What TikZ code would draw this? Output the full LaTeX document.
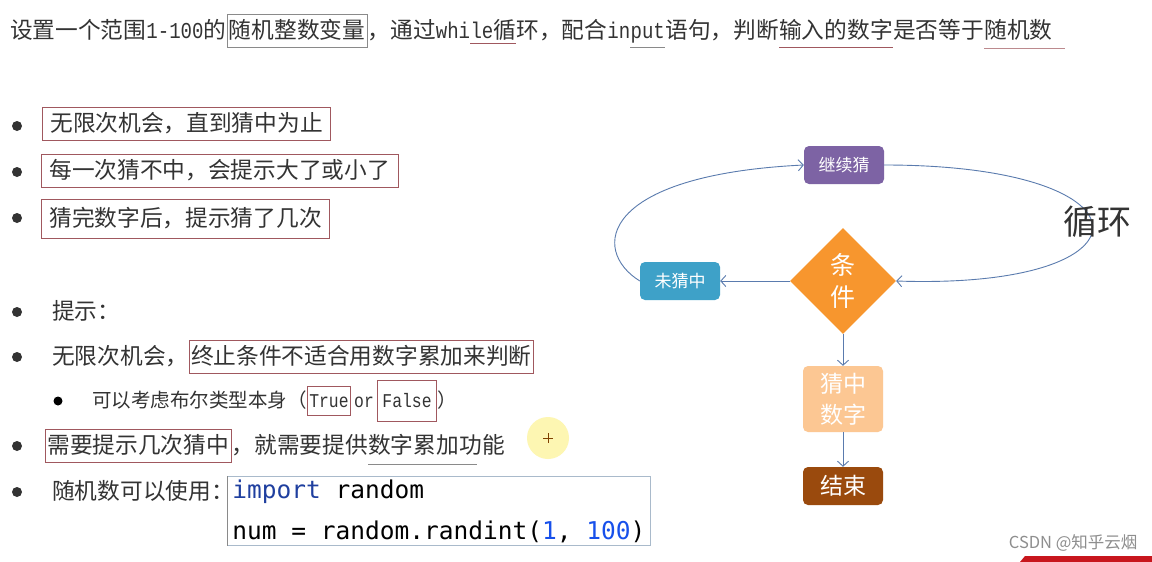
\documentclass[tikz,border=0pt]{standalone}
\usepackage{fontspec}
\setmainfont{Noto Sans CJK SC}
\newfontfamily\lmono[FakeStretch=0.84]{Liberation Mono}
\newfontfamily\codefont{DejaVu Sans Mono}
\usepackage{xcolor}
\usetikzlibrary{shapes.geometric,arrows.meta,positioning,calc}

\definecolor{inkgray}{HTML}{333333}
\definecolor{markred}{HTML}{A0585E}
\definecolor{markgray}{HTML}{8A8A8A}
\definecolor{codeblue}{HTML}{1F3F9F}
\definecolor{numblue}{HTML}{1750EB}
\definecolor{codeframe}{HTML}{A9BACB}
\definecolor{flowline}{HTML}{5A7BAE}
\definecolor{jixucol}{HTML}{7D63A4}
\definecolor{tiaocol}{HTML}{F7962E}
\definecolor{weicol}{HTML}{3EA1C8}
\definecolor{caicol}{HTML}{FCC793}
\definecolor{jieshucol}{HTML}{9A4A0D}
\definecolor{wmgray}{HTML}{8E8E8E}
\definecolor{barred}{HTML}{C8161D}
\definecolor{hilite}{HTML}{FDF6B2}

\tikzset{
  ln/.style={inner sep=0pt, text height=19pt, text depth=4pt, text=inkgray, font=\fontsize{22.7}{22.7}\selectfont},
  lnsmall/.style={ln, text height=16pt, text depth=3.5pt, font=\fontsize{19.5}{19.5}\selectfont},
  markbox/.style={draw=markred, line width=0.8pt, inner xsep=2pt, inner ysep=5pt},
  bulletdot/.style={circle, fill=inkgray, inner sep=0pt, minimum size=10pt},
  flowbox/.style={rectangle, rounded corners=5pt, minimum width=80pt, minimum height=38pt, text=white, font=\fontsize{17}{17}\selectfont, inner sep=0pt},
  flow/.style={draw=flowline, line width=0.9pt, -{Straight Barb[length=5pt,width=11pt]}},
}

\begin{document}
\begin{tikzpicture}[x=1pt,y=-1pt]
    % Page
    \fill[white] (0,0) rectangle (1152,562);
    \useasboundingbox (0,0) rectangle (1152,562);

    % Title line
    \node[ln, anchor=west] (t1) at (10,31) {设置一个范围{\lmono 1-100}的};
    \node[ln, markbox, draw=markgray, right=0pt of t1] (t2) {随机整数变量};
    \node[ln, right=0pt of t2] (t3) {，通过{\lmono whi}};
    \node[ln, right=0pt of t3] (t4) {{\lmono le}循};
    \node[ln, right=0pt of t4] (t5) {环，配合{\lmono in}};
    \node[ln, right=0pt of t5] (t6) {\lmono put};
    \node[ln, right=0pt of t6] (t7) {语句，判断};
    \node[ln, right=0pt of t7] (t8) {输入的数字};
    \node[ln, right=0pt of t8] (t9) {是否等于};
    \node[ln, right=0pt of t9] (t10) {随机数};
    \draw[markred] (t4.south west) -- (t4.south east);
    \draw[markgray, line width=1pt] ([yshift=-5pt]t6.south west) -- ([yshift=-5pt]t6.south east);
    \draw[markred, line width=1pt] ([yshift=-5pt]t8.south west) -- ([yshift=-5pt]t8.south east);
    \draw[markred!70] ([yshift=-5pt]t10.south west) -- ([yshift=-5pt,xshift=12pt]t10.south east);

    % Bullets
    \foreach \y [count=\i] in {126,172,218,312,357,446,492}
        \node[bulletdot] (b\i) at (17,\y) {};
    \node[bulletdot, fill=black, minimum size=9pt] (b8) at (58,401) {};

    % Items
    \node[ln, markbox, inner xsep=8pt, anchor=west] (r1) at (42,124) {无限次机会，直到猜中为止};
    \node[ln, markbox, inner xsep=8pt, anchor=west] (r2) at (41,171) {每一次猜不中，会提示大了或小了};
    \node[ln, markbox, inner xsep=8pt, inner ysep=8pt, anchor=west] (r3) at (41,219) {猜完数字后，提示猜了几次};
    \node[ln, anchor=west] (r4) at (52,312) {提示：};
    \node[ln, anchor=west] (r5a) at (52,357) {无限次机会，};
    \node[ln, markbox, right=0pt of r5a] (r5b) {终止条件不适合用数字累加来判断};

    % Sub item
    \node[lnsmall, anchor=west] (s1) at (92,401) {可以考虑布尔类型本身（};
    \node[lnsmall, markbox, right=0pt of s1] (s2) {\lmono True};
    \node[lnsmall, inner xsep=3pt, right=0pt of s2] (s3) {\lmono or};
    \node[lnsmall, markbox, inner xsep=5pt, inner ysep=11pt, right=0pt of s3] (s4) {\lmono False};
    \node[lnsmall, right=0pt of s4] (s5) {）};

    \node[ln, markbox, anchor=west] (r7a) at (45,446) {需要提示几次猜中};
    \node[ln, right=0pt of r7a] (r7b) {，就需要提供};
    \node[ln, right=0pt of r7b] (r7c) {数字累加};
    \node[ln, right=0pt of r7c] (r7d) {功能};
    \draw[markgray] ([yshift=-6pt]r7c.south west) -- ([yshift=-6pt,xshift=18pt]r7c.south east);

    \node[ln, anchor=west] (r8) at (52,492) {随机数可以使用：};
    \node[draw=codeframe, line width=0.8pt, anchor=north west, inner xsep=5pt, inner ysep=3pt,
          align=left, text=black, font=\codefont\fontsize{24.5}{41}\selectfont] (code) at (227,476)
        {{\color{codeblue}import} random\\num = random.randint({\color{numblue}1}, {\color{numblue}100})};
    \draw[markgray, line width=1pt] (code.north west) -- (code.south west);

    % Cursor highlight
    \fill[hilite] (548,438) circle (21pt);
    \draw[orange!50!black, line width=0.9pt] (543,438) -- (553,438) (548,433) -- (548,443);

    % Flow chart
    \node[flowbox, fill=jixucol] (jixu) at (844,165) {继续猜};
    \node[diamond, aspect=1, fill=tiaocol, minimum width=106pt, minimum height=106pt, inner sep=0pt,
          text=white, align=center, font=\fontsize{25}{32}\selectfont] (tiaojian) at (843,281) {条\\件};
    \node[flowbox, fill=weicol] (weicai) at (680,281) {未猜中};
    \node[flowbox, fill=caicol, minimum height=66pt, align=center, font=\fontsize{23}{31}\selectfont] (caizhong) at (843,399) {猜中\\数字};
    \node[flowbox, fill=jieshucol, font=\fontsize{23}{23}\selectfont] (jieshu) at (843,486) {结束};

    \draw[flow] (tiaojian.west) -- (weicai.east);
    \draw[flow] (tiaojian.south) -- (caizhong.north);
    \draw[flow] (caizhong.south) -- (jieshu.north);
    \draw[flow] (weicai.west) .. controls (590,250) and (600,175) .. (jixu.west);
    \draw[flow] (jixu.east) .. controls (1160,165) and (1160,290) .. (tiaojian.east);

    \node[text=inkgray, font=\fontsize{34}{34}\selectfont] (xunhuan) at (1097,222) {循环};

    % Watermark
    \node[text=wmgray, font=\fontsize{16.5}{16.5}\selectfont, anchor=east] (csdn) at (1141,543) {CSDN @知乎云烟};
    \fill[barred] (1020,562) -- (1025,556) -- (1152,556) -- (1152,562) -- cycle;
\end{tikzpicture}
\end{document}
